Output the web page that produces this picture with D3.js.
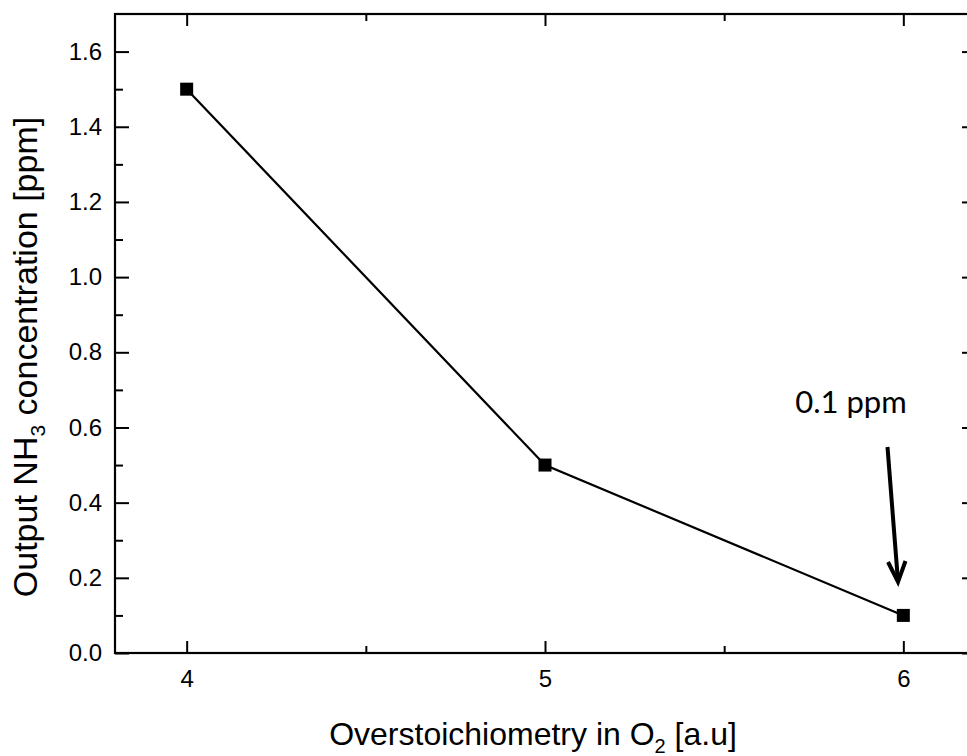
<!DOCTYPE html>
<html><head><meta charset="utf-8">
<script src="https://cdn.jsdelivr.net/npm/d3@7"></script>
<style>html,body{margin:0;padding:0;background:#fff;}svg{display:block;}</style>
</head><body>
<svg id="c" width="967" height="756"></svg>
<script>
const xValues = [4, 5, 6];
const nh3Values = [1.5, 0.5, 0.1];
const xMajorTicks = [4, 5, 6];
const xMinorTicks = [4.5, 5.5];
const yMajorTicks = [0.0, 0.2, 0.4, 0.6, 0.8, 1.0, 1.2, 1.4, 1.6];
const yMinorTicks = [0.1, 0.3, 0.5, 0.7, 0.9, 1.1, 1.3, 1.5];
const annotationText = "0.1 ppm";

const svg = d3.select("#c");
const L = 115, R = 975, T = 14, B = 653;
const x = d3.scaleLinear().domain([3.8, 6.2]).range([L, R]);
const y = d3.scaleLinear().domain([0, 1.7]).range([B, T]);
const font = "'Liberation Sans', Arial, sans-serif";

// frame
svg.append("rect").attr("x", L).attr("y", T).attr("width", R - L).attr("height", B - T)
  .attr("fill", "none").attr("stroke", "#000").attr("stroke-width", 2.2);

// bottom axis
svg.append("g").attr("transform", `translate(0,${B})`)
  .call(d3.axisBottom(x).tickValues(xMajorTicks).tickSize(-12).tickPadding(17).tickFormat(d3.format("d")));
svg.append("g").attr("transform", `translate(0,${B})`)
  .call(d3.axisBottom(x).tickValues(xMinorTicks).tickSize(-7).tickFormat(""));
// top axis
svg.append("g").attr("transform", `translate(0,${T})`)
  .call(d3.axisTop(x).tickValues(xMajorTicks).tickSize(-12).tickFormat(""));
svg.append("g").attr("transform", `translate(0,${T})`)
  .call(d3.axisTop(x).tickValues(xMinorTicks).tickSize(-7).tickFormat(""));
// left axis
svg.append("g").attr("transform", `translate(${L},0)`)
  .call(d3.axisLeft(y).tickValues(yMajorTicks).tickSize(-14).tickPadding(13).tickFormat(d3.format(".1f")));
svg.append("g").attr("transform", `translate(${L},0)`)
  .call(d3.axisLeft(y).tickValues(yMinorTicks).tickSize(-8).tickFormat(""));
// right axis
svg.append("g").attr("transform", `translate(${R},0)`)
  .call(d3.axisRight(y).tickValues(yMajorTicks).tickSize(-13).tickFormat(""));
svg.append("g").attr("transform", `translate(${R},0)`)
  .call(d3.axisRight(y).tickValues(yMinorTicks).tickSize(-7).tickFormat(""));

svg.selectAll(".domain").remove();
svg.selectAll("g").attr("font-size", null).attr("font-family", null);
svg.selectAll(".tick line").attr("stroke", "#000").attr("stroke-width", 2);
svg.selectAll(".tick text").attr("fill", "#000").attr("font-family", font).attr("font-size", 24);

// line
const data = xValues.map((v, i) => ({x: v, y: nh3Values[i]}));
svg.append("path").datum(data)
  .attr("d", d3.line().x(d => x(d.x)).y(d => y(d.y)))
  .attr("fill", "none").attr("stroke", "#000").attr("stroke-width", 2.2);
const s = 13;
svg.selectAll(".pt").data(data).enter().append("rect")
  .attr("x", d => x(d.x) - s / 2).attr("y", d => y(d.y) - s / 2)
  .attr("width", s).attr("height", s).attr("fill", "#000");

// annotation
const ax1 = 887.5, ay1 = 447, ax2 = 898, ay2 = 582;
svg.append("line").attr("x1", ax1).attr("y1", ay1).attr("x2", ax2 - 0.2).attr("y2", ay2 - 3)
  .attr("stroke", "#000").attr("stroke-width", 4);
svg.append("path")
  .attr("d", `M${ax2 - 10},${ay2 - 20} L${ax2},${ay2} L${ax2 + 7.5},${ay2 - 21}`)
  .attr("fill", "none").attr("stroke", "#000").attr("stroke-width", 4).attr("stroke-linejoin", "miter");
svg.append("text").attr("x", 851).attr("y", 413).attr("text-anchor", "middle")
  .attr("font-family", "Lato, 'Open Sans', sans-serif").attr("font-size", 31).attr("fill", "#000")
  .text(annotationText);

// x title
const xt = svg.append("text").attr("x", 533).attr("y", 745).attr("text-anchor", "middle")
  .attr("font-family", font).attr("font-size", 32).attr("fill", "#000");
xt.append("tspan").text("Overstoichiometry in O");
xt.append("tspan").attr("dy", 8).attr("font-size", 20).text("2");
xt.append("tspan").attr("dy", -8).text(" [a.u]");

// y title
const yt = svg.append("text").attr("transform", "translate(37,357) rotate(-90)").attr("text-anchor", "middle")
  .attr("font-family", font).attr("font-size", 34).attr("fill", "#000");
yt.append("tspan").text("Output NH");
yt.append("tspan").attr("dy", 8).attr("font-size", 21).text("3");
yt.append("tspan").attr("dy", -8).text(" concentration [ppm]");
</script>
</body></html>
